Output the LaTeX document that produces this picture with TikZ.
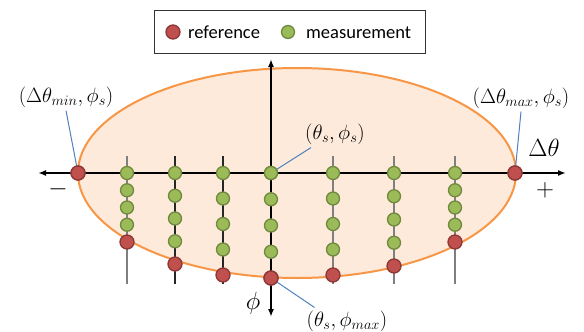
\documentclass[tikz,border=0pt]{standalone}
\usepackage{fontspec}
\newfontfamily\legendfont{Carlito}
\usetikzlibrary{arrows.meta}
\definecolor{refred}{HTML}{C0504D}
\definecolor{refredd}{HTML}{8C3836}
\definecolor{measg}{HTML}{9BBB59}
\definecolor{measgd}{HTML}{71893F}
\definecolor{elfill}{HTML}{FDEADA}
\definecolor{elline}{HTML}{F79646}
\definecolor{leadblue}{HTML}{4F81BD}
\definecolor{colgray}{HTML}{7F7F7F}
\definecolor{coldark}{HTML}{262626}
\begin{document}
\begin{tikzpicture}[x=1pt,y=-1pt,
 refdot/.style={circle,fill=refred,draw=refredd,line width=1.3pt,minimum size=14pt,inner sep=0pt},
 measdot/.style={circle,fill=measg,draw=measgd,line width=1.3pt,minimum size=13pt,inner sep=0pt},
 axisline/.style={line width=2pt,{Latex[length=8pt,width=6pt]}-{Latex[length=8pt,width=6pt]}},
 colline/.style={line width=1.5pt,draw=#1},
 leaderline/.style={draw=leadblue,line width=1pt},
 mathlbl/.style={font=\fontsize{21.5}{25}\selectfont,inner sep=0pt},
 biglbl/.style={font=\fontsize{24}{28}\selectfont,inner sep=0pt},
 legtext/.style={font=\legendfont\fontsize{18.5}{22}\selectfont,inner sep=0pt,anchor=base west},
]
\useasboundingbox (0,0) rectangle (584,332);
% ellipse
\draw[fill=elfill,draw=elline,line width=2pt] (297,173) ellipse [x radius=219pt, y radius=105pt];
% column lines
\foreach \x/\c [count=\i] in {127/colgray,175/coldark,223/coldark,333/colgray,394/colgray,455/colgray}{
  \coordinate (ctop\i) at (\x,156);
  \coordinate (cbot\i) at (\x,284);
  \draw[colline=\c] (ctop\i) -- (cbot\i);
}
% axes
\coordinate (axL) at (38,173);
\coordinate (axR) at (566,173);
\coordinate (axT) at (271,59);
\coordinate (axB) at (271,317);
\draw[axisline] (axL) -- (axR);
\draw[axisline] (axT) -- (axB);
% end reference dots
\node[refdot] (rL) at (78,173) {};
\node[refdot] (rR) at (515,173) {};
% columns of dots
\foreach \x/\ry [count=\i] in {127/242,175/264,223/275,271/278,333/275,394/266,455/242}{
  \foreach \k in {0,1,2,3}{
    \pgfmathsetmacro\yy{173+\k*(\ry-173)/4}
    \node[measdot] (g\i-\k) at (\x,\yy) {};
  }
  \node[refdot] (r\i) at (\x,\ry) {};
}
% labels
\node[mathlbl] (lmin) at (66,97) {$(\Delta\theta_{min}, \phi_s)$};
\node[mathlbl] (lmax) at (521,98) {$(\Delta\theta_{max}, \phi_s)$};
\node[mathlbl] (ls) at (335,134) {$(\theta_s, \phi_s)$};
\node[mathlbl] (lpm) at (347,321) {$(\theta_s, \phi_{max})$};
\node[biglbl] (ldt) at (544,148) {$\Delta\theta$};
\node[biglbl] (lplus) at (545,190) {$+$};
\node[biglbl] (lminus) at (58,189) {$-$};
\node[biglbl] (lphi) at (253,303) {$\phi$};
% leader lines
\draw[leaderline] ([yshift=-3pt]lmin.south) -- (rL.center);
\draw[leaderline] ([yshift=-3pt]lmax.south) -- (rR.center);
\draw[leaderline] ([xshift=6pt,yshift=-3pt]ls.south west) -- (g4-0.center);
\draw[leaderline] ([xshift=8pt,yshift=3pt]lpm.north west) -- (r4.center);
% redraw dots over leaders
\node[refdot] at (rL) {};
\node[refdot] at (rR) {};
\node[measdot] at (g4-0) {};
\node[refdot] at (r4) {};
% legend
\node[draw=black!80,line width=0.8pt,fill=white,minimum width=271pt,minimum height=43pt,inner sep=0pt] (legend) at (289.5,31.5) {};
\node[refdot] (legr) at (173,32) {};
\node[legtext] (legrt) at (188,38) {reference};
\node[measdot] (legg) at (288,32) {};
\node[legtext] (leggt) at (306,38) {measurement};
\end{tikzpicture}
\end{document}
